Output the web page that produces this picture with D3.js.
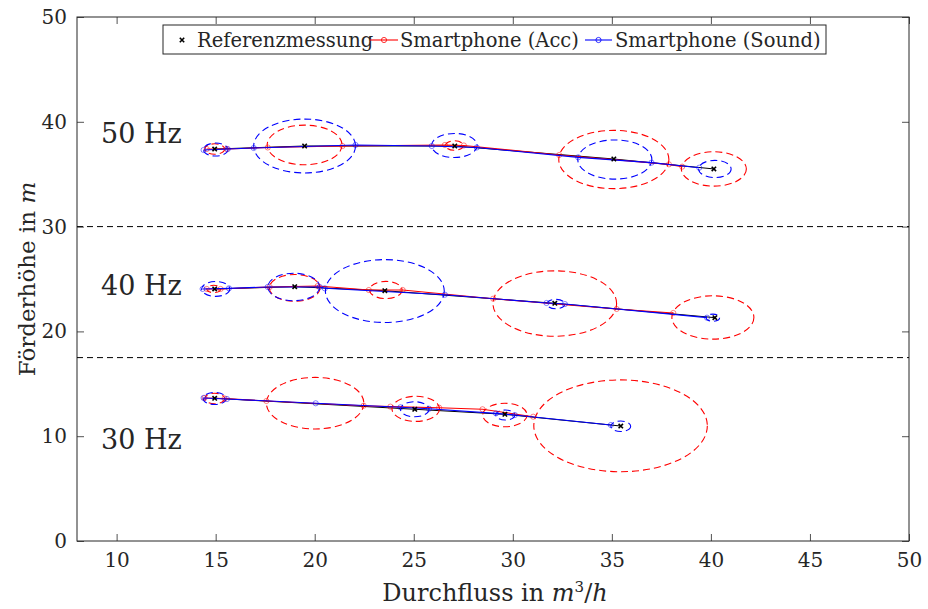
<!DOCTYPE html>
<html><head><meta charset="utf-8">
<script src="https://cdn.jsdelivr.net/npm/d3@7"></script>
<style>body{margin:0;background:#fff}svg{display:block}text{font-family:"DejaVu Serif","Liberation Serif",serif;fill:#262626}</style>
</head><body><svg id="c" width="928" height="609"></svg>
<script>
// reference measurements
const ref50 = [[14.95,37.40],[19.49,37.69],[27.07,37.69],[35.10,36.45],[40.15,35.50]];
const ref40 = [[14.95,24.05],[18.99,24.27],[23.54,23.88],[32.12,22.68],[40.20,21.31]];
const ref30 = [[14.95,13.62],[25.05,12.57],[29.60,12.09],[35.45,10.97]];
// smartphone (Acc) line points
const acc50 = [[14.55,37.40],[15.56,37.40],[17.63,37.55],[21.40,37.69],[26.57,37.79],[27.53,37.74],[32.34,36.83],[37.88,35.94],[38.55,35.72]];
const acc40 = [[14.55,24.05],[15.25,24.05],[17.73,24.24],[20.15,24.33],[22.73,23.95],[24.44,23.95],[29.01,23.12],[35.24,22.14],[38.10,21.76]];
const acc30 = [[14.44,13.65],[15.45,13.60],[17.56,13.36],[22.47,12.91],[23.82,12.82],[26.28,12.72],[28.47,12.57],[31.03,11.86]];
// smartphone (Sound) line points
const snd50 = [[14.39,37.31],[15.61,37.40],[16.92,37.50],[22.06,37.79],[25.91,37.69],[28.18,37.55],[33.30,36.61],[37.00,36.10],[39.41,35.62]];
const snd40 = [[14.34,24.05],[15.67,24.11],[17.63,24.24],[20.25,24.24],[20.51,24.11],[26.57,23.50],[31.70,22.71],[32.63,22.61],[39.80,21.31]];
const snd30 = [[14.39,13.65],[15.57,13.55],[20.05,13.14],[24.33,12.76],[25.77,12.62],[29.15,12.18],[30.10,12.02],[34.95,11.07]];
// uncertainty circles [cx, cy, r]
const accCirc50 = [[14.95,37.40,0.50],[19.49,37.79,1.89],[27.05,37.74,0.45],[35.10,36.40,2.78],[40.15,35.50,1.64]];
const accCirc40 = [[14.90,24.05,0.35],[18.99,24.15,1.28],[23.59,23.95,0.82],[32.12,22.66,3.12],[40.10,21.33,2.07]];
const accCirc30 = [[14.95,13.60,0.50],[20.02,13.15,2.46],[25.10,12.61,1.20],[29.60,12.02,1.12],[35.44,10.99,4.38]];
const sndCirc50 = [[15.00,37.35,0.62],[19.49,37.69,2.57],[27.05,37.74,1.15],[35.15,36.40,1.87],[40.20,35.50,0.82]];
const sndCirc40 = [[15.00,24.05,0.71],[18.94,24.24,1.31],[23.54,23.85,3.00],[32.17,22.61,0.45],[40.10,21.31,0.34]];
const sndCirc30 = [[14.95,13.60,0.58],[25.05,12.57,0.72],[29.62,12.02,0.48],[35.45,10.95,0.50]];
const separators = [30, 17.5];
const groupLabels = ["50 Hz","40 Hz","30 Hz"];
const groupLabelY = [38, 23.5, 8.8];
const xTicks = [10,15,20,25,30,35,40,45,50];
const yTicks = [0,10,20,30,40,50];
const legendLabels = ["Referenzmessung","Smartphone (Acc)","Smartphone (Sound)"];

const svg = d3.select("#c");
const L=77, R=909, T=17, B=541;
const x = d3.scaleLinear().domain([8,50]).range([L,R]);
const y = d3.scaleLinear().domain([0,50]).range([B,T]);
const RED="#ff0000", BLUE="#0000ff", AX="#262626";

// axes (ticks inside, box)
const tl=7;
const gx = svg.append("g").attr("transform",`translate(0,${B})`)
  .call(d3.axisBottom(x).tickValues(xTicks).tickSizeInner(-tl).tickSizeOuter(0).tickPadding(12));
const gxt = svg.append("g").attr("transform",`translate(0,${T})`)
  .call(d3.axisTop(x).tickValues(xTicks).tickSizeInner(-tl).tickSizeOuter(0).tickFormat(""));
const gy = svg.append("g").attr("transform",`translate(${L},0)`)
  .call(d3.axisLeft(y).tickValues(yTicks).tickSizeInner(-tl).tickSizeOuter(0).tickPadding(10));
const gyr = svg.append("g").attr("transform",`translate(${R},0)`)
  .call(d3.axisRight(y).tickValues(yTicks).tickSizeInner(-tl).tickSizeOuter(0).tickFormat(""));
[gx,gxt,gy,gyr].forEach(g=>{
  g.select(".domain").remove();
  g.selectAll("line").attr("stroke",AX).attr("stroke-width",0.8);
  g.selectAll("text").attr("font-size",20).attr("fill",AX).style("font-family",'"DejaVu Serif",serif');
});
svg.append("rect").attr("x",L).attr("y",T).attr("width",R-L).attr("height",B-T)
  .attr("fill","none").attr("stroke",AX).attr("stroke-width",1);

// separators
svg.selectAll(".sep").data(separators).join("line")
  .attr("x1",L).attr("x2",R).attr("y1",d=>y(d)).attr("y2",d=>y(d))
  .attr("stroke","#000").attr("stroke-width",1).attr("stroke-dasharray","6,4");

const line = d3.line().x(d=>x(d[0])).y(d=>y(d[1]));
const plot = svg.append("g");

function circles(data,color){
  plot.append("g").selectAll("ellipse").data(data).join("ellipse")
    .attr("cx",d=>x(d[0])).attr("cy",d=>y(d[1]))
    .attr("rx",d=>x(d[0]+d[2])-x(d[0])).attr("ry",d=>y(d[1])-y(d[1]+d[2]))
    .attr("fill","none").attr("stroke",color).attr("stroke-width",1.1).attr("stroke-dasharray","7,4");
}
function series(data,color){
  plot.append("path").datum(data).attr("d",line).attr("fill","none").attr("stroke",color).attr("stroke-width",1.1);
  plot.append("g").selectAll("circle").data(data).join("circle")
    .attr("cx",d=>x(d[0])).attr("cy",d=>y(d[1])).attr("r",2.6)
    .attr("fill","none").attr("stroke",color).attr("stroke-width",0.7).attr("opacity",0.7);
}
function xmark(g,cx,cy,s){
  g.append("path").attr("d",`M${cx-s},${cy-s}L${cx+s},${cy+s}M${cx-s},${cy+s}L${cx+s},${cy-s}`)
    .attr("stroke","#000").attr("stroke-width",1.6);
}
[ref50,ref40,ref30].forEach(r=>plot.append("path").datum(r).attr("d",line).attr("fill","none").attr("stroke","#000").attr("stroke-width",1));
[[accCirc50,RED],[accCirc40,RED],[accCirc30,RED],[sndCirc50,BLUE],[sndCirc40,BLUE],[sndCirc30,BLUE]].forEach(([d,c])=>circles(d,c));
[[acc50,RED],[acc40,RED],[acc30,RED],[snd50,BLUE],[snd40,BLUE],[snd30,BLUE]].forEach(([d,c])=>series(d,c));
[ref50,ref40,ref30].forEach(r=>r.forEach(p=>xmark(plot,x(p[0]),y(p[1]),2.2)));

// group labels
svg.selectAll(".gl").data(groupLabels).join("text")
  .attr("x",101).attr("y",(d,i)=>y(groupLabelY[i])).attr("font-size",27).attr("fill","#000").text(d=>d);

// legend
const lg = svg.append("g");
lg.append("rect").attr("x",163).attr("y",25).attr("width",663).attr("height",29)
  .attr("fill","#fff").attr("stroke",AX).attr("stroke-width",1);
xmark(lg,182,40,2.2);
const lx=[197,400,615];
lg.selectAll("text.l").data(legendLabels).join("text")
  .attr("x",(d,i)=>lx[i]).attr("y",47).attr("font-size",19.5).attr("fill","#000").text(d=>d);
[[370,398,RED],[585,612,BLUE]].forEach(([a,b,c])=>{
  lg.append("line").attr("x1",a).attr("x2",b).attr("y1",40).attr("y2",40).attr("stroke",c).attr("stroke-width",1.1);
  lg.append("circle").attr("cx",(a+b)/2).attr("cy",40).attr("r",2.6).attr("fill","none").attr("stroke",c).attr("stroke-width",0.8);
});

// axis titles
const xt = svg.append("text").attr("x",495).attr("y",601).attr("text-anchor","middle").attr("font-size",24).attr("fill",AX);
xt.append("tspan").text("Durchfluss in ");
xt.append("tspan").attr("font-style","italic").text("m");
xt.append("tspan").attr("font-size",15).attr("dy",-9).text("3");
xt.append("tspan").attr("dy",9).text("/");
xt.append("tspan").attr("font-style","italic").text("h");
const yt = svg.append("text").attr("transform","translate(35,279) rotate(-90)").attr("text-anchor","middle").attr("font-size",23).attr("fill",AX);
yt.append("tspan").text("Förderhöhe in ");
yt.append("tspan").attr("font-style","italic").text("m");
</script></body></html>
